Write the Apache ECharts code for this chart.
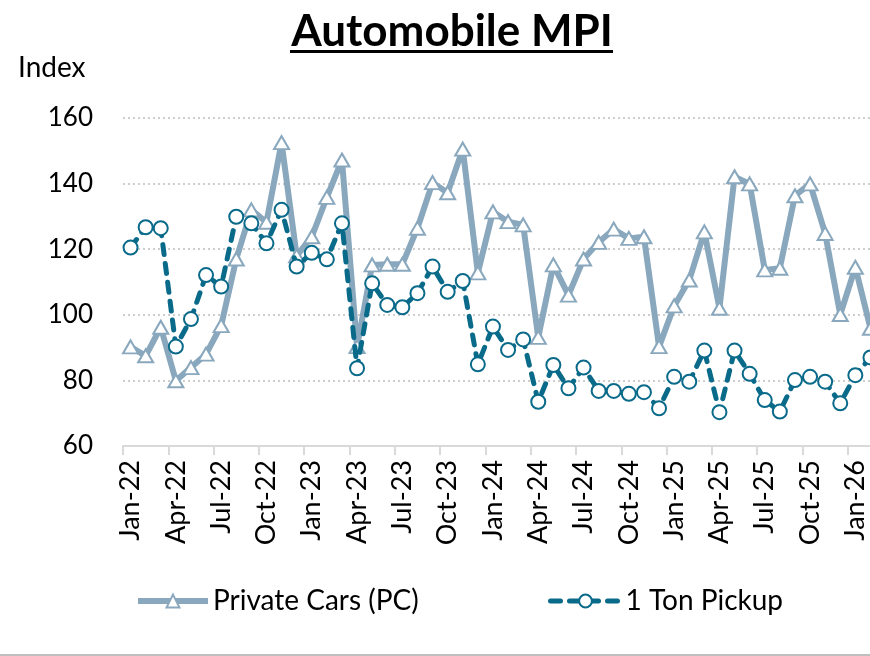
<!DOCTYPE html>
<html>
<head>
<meta charset="utf-8">
<script src="https://cdn.jsdelivr.net/npm/echarts@6/dist/echarts.min.js"></script>
<style>
html,body{margin:0;padding:0;background:#fff;overflow:hidden;width:870px;height:656px;}
#chart{width:878px;height:656px;}
</style>
</head>
<body>
<div id="chart"></div>
<script>
const categories = [
  'Jan-22','Feb-22','Mar-22','Apr-22','May-22','Jun-22','Jul-22','Aug-22','Sep-22','Oct-22','Nov-22','Dec-22',
  'Jan-23','Feb-23','Mar-23','Apr-23','May-23','Jun-23','Jul-23','Aug-23','Sep-23','Oct-23','Nov-23','Dec-23',
  'Jan-24','Feb-24','Mar-24','Apr-24','May-24','Jun-24','Jul-24','Aug-24','Sep-24','Oct-24','Nov-24','Dec-24',
  'Jan-25','Feb-25','Mar-25','Apr-25','May-25','Jun-25','Jul-25','Aug-25','Sep-25','Oct-25','Nov-25','Dec-25',
  'Jan-26','Feb-26'
];
const privateCars = [
  90.2, 87.5, 96.2, 79.9, 83.9, 88.0, 96.7, 117.0, 132.0, 128.2, 152.5, 118.0,
  123.8, 135.8, 147.2, 90.3, 115.2, 115.4, 115.4, 126.4, 140.3, 137.2, 150.5, 112.8,
  131.4, 128.4, 127.4, 93.1, 115.2, 106.0, 117.0, 122.1, 126.1, 123.3, 123.8, 90.3,
  102.7, 110.6, 125.3, 102.0, 142.1, 139.9, 113.7, 114.2, 136.3, 139.9, 124.8, 100.1,
  114.5, 95.9
];
const tonPickup = [
  120.5, 126.7, 126.4, 90.3, 98.7, 112.1, 108.6, 129.9, 127.9, 121.8, 132.0, 114.7,
  118.9, 116.9, 127.9, 83.7, 109.6, 103.0, 102.3, 106.6, 114.7, 107.0, 110.3, 84.9,
  96.4, 89.3, 92.5, 73.5, 84.7, 77.6, 83.9, 76.8, 76.8, 75.9, 76.4, 71.5,
  81.1, 79.6, 89.1, 70.3, 89.1, 82.0, 74.0, 70.5, 80.1, 81.1, 79.6, 73.0,
  81.6, 87.0
];
const yTicks = { min: 60, max: 160, interval: 20 };

const FONT = 'Lato';
const PC_COLOR = '#8aa8bd';
const PU_COLOR = '#0a6a8a';

const chart = echarts.init(document.getElementById('chart'), null, { renderer: 'canvas' });
chart.setOption({
  backgroundColor: '#ffffff',
  animation: false,
  graphic: [
    { type: 'text', x: 452, y: 32, style: { text: 'Automobile MPI', font: 'bold 44px Lato', fill: '#000', align: 'center', verticalAlign: 'middle' } },
    { type: 'rect', shape: { x: 290, y: 50, width: 323, height: 3 }, style: { fill: '#000' } },
    { type: 'text', x: 18, y: 68, style: { text: 'Index', font: '28px Lato', fill: '#000', verticalAlign: 'middle' } },
    { type: 'rect', shape: { x: 0, y: 654, width: 878, height: 2 }, style: { fill: '#bfbfbf' } }
  ],
  legend: [
    {
      data: ['Private Cars (PC)'],
      left: 135, top: 587, padding: 0,
      itemWidth: 70, itemHeight: 16, itemGap: 8,
      lineStyle: { width: 6, color: PC_COLOR },
      textStyle: { fontFamily: FONT, fontSize: 28, color: '#000' }
    },
    {
      data: ['1 Ton Pickup'],
      left: 548, top: 587, padding: 0,
      itemWidth: 70, itemHeight: 16, itemGap: 8,
      lineStyle: { width: 5, color: PU_COLOR, type: [10, 9], cap: 'round' },
      textStyle: { fontFamily: FONT, fontSize: 28, color: '#000' }
    }
  ],
  grid: { left: 123, right: 0, top: 118, bottom: 210, containLabel: false },
  xAxis: {
    type: 'category',
    data: categories,
    boundaryGap: true,
    axisLine: { show: true, lineStyle: { color: '#d9d9d9', width: 2 } },
    axisTick: { show: true, interval: 2, length: 9, lineStyle: { color: '#d9d9d9', width: 2 } },
    axisLabel: { interval: 2, rotate: 90, margin: 14, fontFamily: FONT, fontSize: 27, color: '#000' },
    splitLine: { show: false }
  },
  yAxis: {
    type: 'value',
    min: yTicks.min, max: yTicks.max, interval: yTicks.interval,
    axisLine: { show: false },
    axisTick: { show: false },
    axisLabel: { margin: 30, fontFamily: FONT, fontSize: 26, color: '#000' },
    splitLine: { show: true, lineStyle: { color: '#bfbfbf', type: [2, 3], width: 1.5 } }
  },
  series: [
    {
      name: 'Private Cars (PC)',
      type: 'line',
      data: privateCars,
      clip: false,
      symbol: 'triangle',
      symbolSize: [15, 13],
      showAllSymbol: true,
      lineStyle: { color: PC_COLOR, width: 6, join: 'round' },
      itemStyle: { color: '#ffffff', borderColor: PC_COLOR, borderWidth: 2 },
      z: 2
    },
    {
      name: '1 Ton Pickup',
      type: 'line',
      data: tonPickup,
      clip: false,
      symbol: 'circle',
      symbolSize: 14,
      showAllSymbol: true,
      lineStyle: { color: PU_COLOR, width: 5, type: [10, 9], cap: 'round' },
      itemStyle: { color: '#ffffff', borderColor: PU_COLOR, borderWidth: 2 },
      z: 3
    }
  ]
});
</script>
</body>
</html>
